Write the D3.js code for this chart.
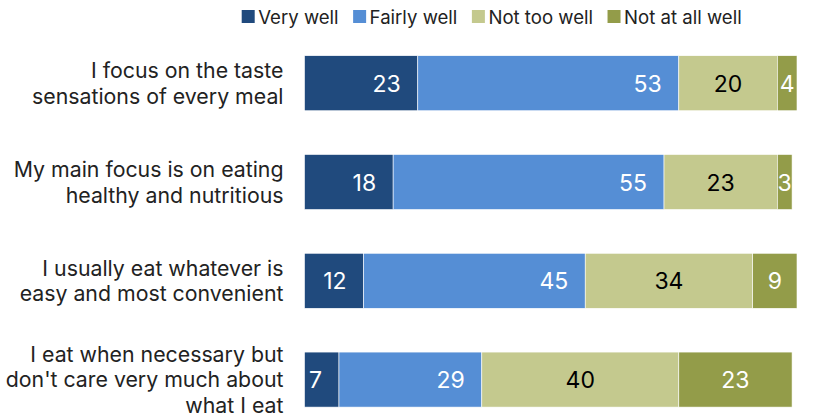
<!DOCTYPE html>
<html>
<head>
<meta charset="utf-8">
<script src="https://cdn.jsdelivr.net/npm/d3@7"></script>
<style>
  html, body { margin: 0; padding: 0; background: #fff; }
  svg { display: block; font-family: Inter, "Open Sans", "Liberation Sans", Arial, sans-serif; }
</style>
</head>
<body>
<svg id="chart" width="815" height="420"></svg>
<script>
const categories = [
  ["I focus on the taste", "sensations of every meal"],
  ["My main focus is on eating", "healthy and nutritious"],
  ["I usually eat whatever is", "easy and most convenient"],
  ["I eat when necessary but", "don't care very much about", "what I eat"]
];
const seriesNames = ["Very well", "Fairly well", "Not too well", "Not at all well"];
const veryWell    = [23, 18, 12, 7];
const fairlyWell  = [53, 55, 45, 29];
const notTooWell  = [20, 23, 34, 40];
const notAtAll    = [4, 3, 9, 23];
const colors = ["#204a7d", "#558ed5", "#c4c98e", "#939c49"];
const textColors = ["#fff", "#fff", "#000", "#fff"];

const seriesValues = [veryWell, fairlyWell, notTooWell, notAtAll];
const rows = categories.map((c, i) => {
  const r = { idx: i, label: c };
  seriesNames.forEach((s, j) => r[s] = seriesValues[j][i]);
  return r;
});

const svg = d3.select("#chart");
const x = d3.scaleLinear().domain([0, 100]).range([304.5, 797]);
const y = d3.scaleBand().domain(d3.range(categories.length)).range([55.7, 407.1]).paddingInner(0.443).paddingOuter(0);

const stacked = d3.stack().keys(seriesNames)(rows);

const layers = svg.append("g").selectAll("g").data(stacked).join("g")
  .attr("fill", (d, i) => colors[i]);

layers.selectAll("rect").data(d => d).join("rect")
  .attr("x", d => x(d[0]))
  .attr("y", d => y(d.data.idx))
  .attr("width", d => x(d[1]) - x(d[0]))
  .attr("height", y.bandwidth())
  .attr("stroke", "#fff")
  .attr("stroke-width", 0.6);

// value labels
stacked.forEach((layer, si) => {
  svg.append("g").selectAll("text").data(layer).join("text")
    .attr("x", d => si < 2 ? x(d[1]) - 17 : (x(d[0]) + x(d[1])) / 2)
    .attr("y", d => y(d.data.idx) + y.bandwidth() / 2 + 8.5)
    .attr("text-anchor", si < 2 ? "end" : "middle")
    .attr("font-size", 23)
    .attr("fill", textColors[si])
    .text(d => d[1] - d[0]);
});

// category labels
const lineH = 25.6;
const lab = svg.append("g").selectAll("text").data(rows).join("text")
  .attr("text-anchor", "end")
  .attr("font-size", 21.3)
  .attr("fill", "#222");
lab.each(function(d) {
  const n = d.label.length;
  const cy = y(d.idx) + y.bandwidth() / 2;
  d3.select(this).selectAll("tspan").data(d.label).join("tspan")
    .attr("x", 283.5)
    .attr("y", (t, k) => cy + (k - (n - 1) / 2) * lineH + 7.7)
    .text(t => t);
});

// legend
const legend = svg.append("g");
let lx = 241.7;
seriesNames.forEach((s, i) => {
  legend.append("rect").attr("x", lx).attr("y", 10).attr("width", 13).attr("height", 13).attr("fill", colors[i]);
  const t = legend.append("text").attr("x", lx + 16.5).attr("y", 23.5).attr("font-size", 18.6).attr("fill", "#222").text(s);
  lx += 16.5 + t.node().getComputedTextLength() + 14.5;
});
</script>
</body>
</html>
